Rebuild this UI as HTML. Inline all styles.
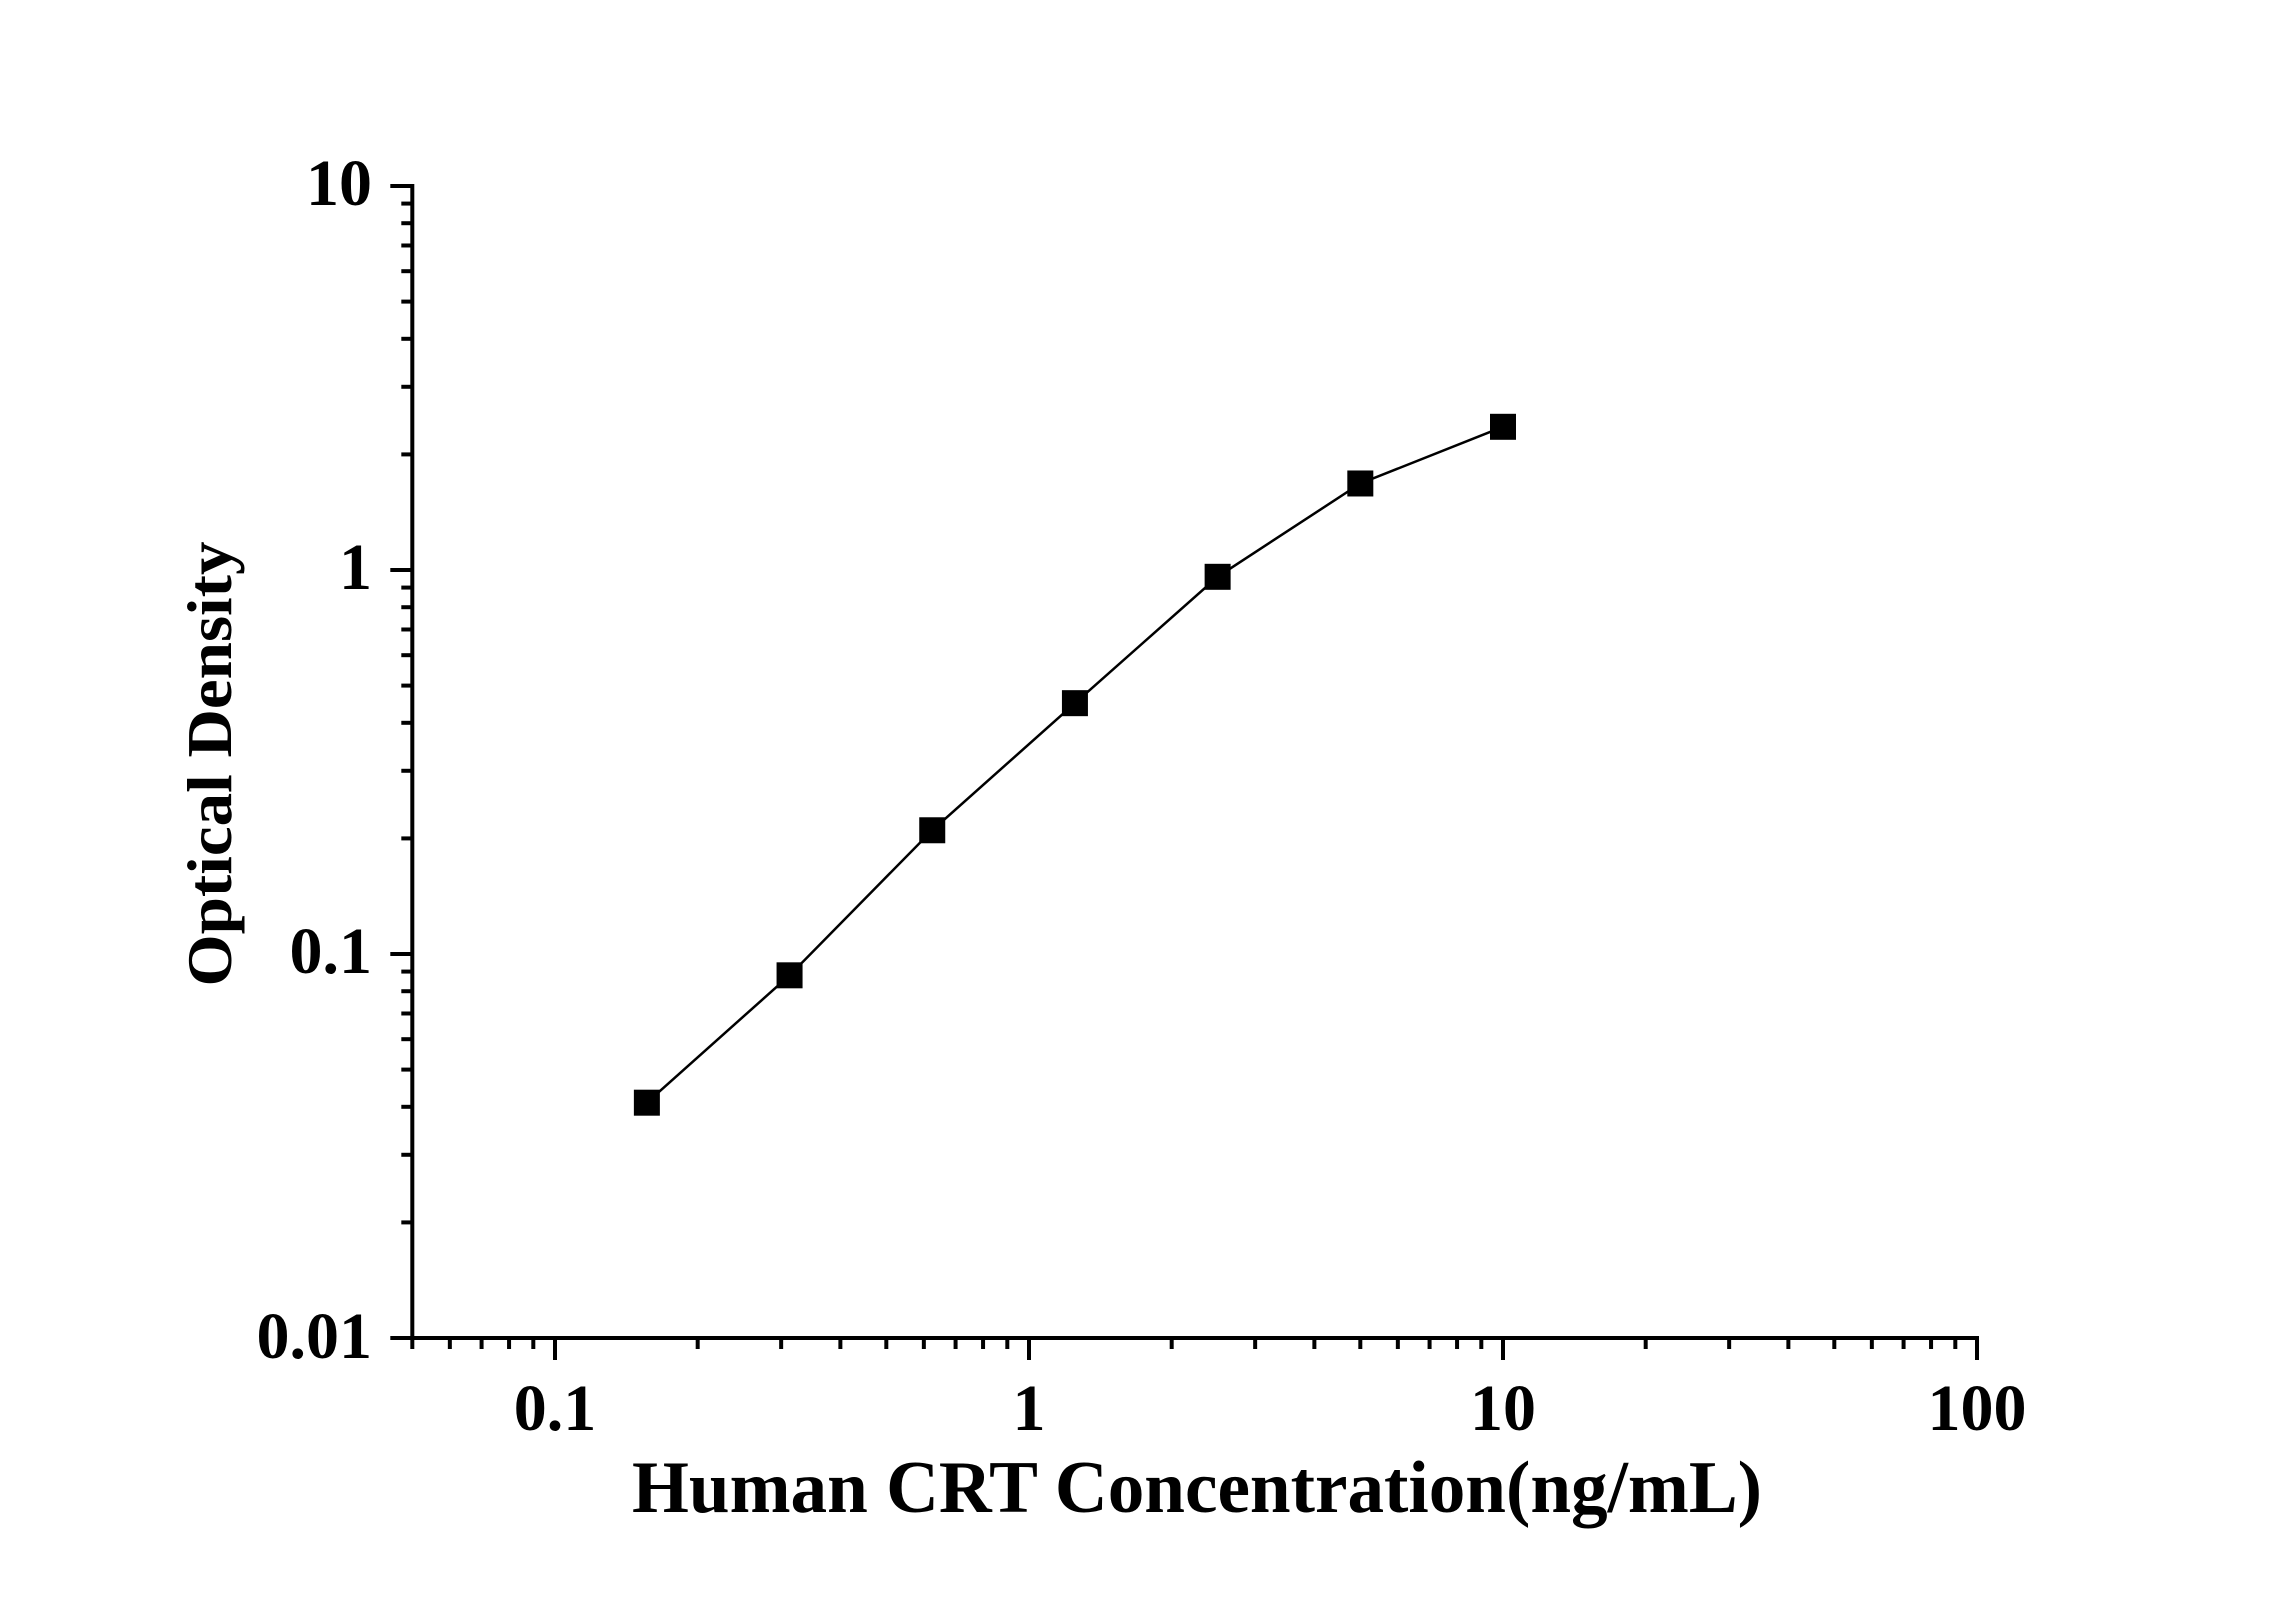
<!DOCTYPE html>
<html><head><meta charset="utf-8"><style>body{margin:0;background:#fff}</style></head><body>
<svg width="2296" height="1604" xmlns="http://www.w3.org/2000/svg" font-family="Liberation Serif, serif" font-weight="bold">
<rect width="2296" height="1604" fill="#fff"/>
<g id="ax" stroke="#000" stroke-width="4" fill="none"></g>
<g id="data"></g>
<g font-size="66" text-anchor="end">
<text x="372" y="205">10</text>
<text x="372" y="589">1</text>
<text x="372" y="973">0.1</text>
<text x="372" y="1358">0.01</text>
</g>
<g font-size="66" text-anchor="middle">
<text x="555" y="1430">0.1</text>
<text x="1029" y="1430">1</text>
<text x="1503" y="1430">10</text>
<text x="1977" y="1430">100</text>
</g>
<text x="1197" y="1512" font-size="74" text-anchor="middle" textLength="1130" lengthAdjust="spacingAndGlyphs">Human CRT Concentration(ng/mL)</text>
<text transform="translate(231,764) rotate(-90)" font-size="64" text-anchor="middle" textLength="445" lengthAdjust="spacingAndGlyphs">Optical Density</text>
<script>
var ns="http://www.w3.org/2000/svg";
var ax=document.getElementById('ax');
function L(x1,y1,x2,y2,w){var l=document.createElementNS(ns,'line');l.setAttribute('x1',x1);l.setAttribute('y1',y1);l.setAttribute('x2',x2);l.setAttribute('y2',y2);if(w)l.setAttribute('stroke-width',w);ax.appendChild(l);}
function px(v){return 555+474*Math.log10(v/0.1);}
function py(v){return 186+384*(1-Math.log10(v));}
var X0=px(0.05),X1=px(100),Y0=186,Y1=1338;
L(X0,Y1,X1+2,Y1);L(X0,Y0-2,X0,Y1+2);
for(var e=-2;e<=1;e++){L(X0-22,py(Math.pow(10,e)),X0,py(Math.pow(10,e)));if(e<1)for(var k=2;k<10;k++){var y=py(k*Math.pow(10,e));L(X0-11,y,X0,y);}}
for(var e=-1;e<=2;e++){var x=px(Math.pow(10,e));L(x,Y1,x,Y1+22);}
for(var e=-2;e<=1;e++)for(var k=1;k<10;k++){var v=k*Math.pow(10,e);if(v<0.05||k==1)continue;var x=px(v);L(x,Y1,x,Y1+11);}
var d=[[0.15625,0.041],[0.3125,0.088],[0.625,0.21],[1.25,0.45],[2.5,0.96],[5,1.68],[10,2.36]];
var dg=document.getElementById('data');var pts=d.map(function(p){return px(p[0])+','+py(p[1]);}).join(' ');
var pl=document.createElementNS(ns,'polyline');pl.setAttribute('points',pts);pl.setAttribute('fill','none');pl.setAttribute('stroke','#000');pl.setAttribute('stroke-width','2.5');dg.appendChild(pl);
d.forEach(function(p){var r=document.createElementNS(ns,'rect');r.setAttribute('x',px(p[0])-13);r.setAttribute('y',py(p[1])-13);r.setAttribute('width',26);r.setAttribute('height',26);r.setAttribute('fill','#000');dg.appendChild(r);});
</script>
</svg>
</body></html>
